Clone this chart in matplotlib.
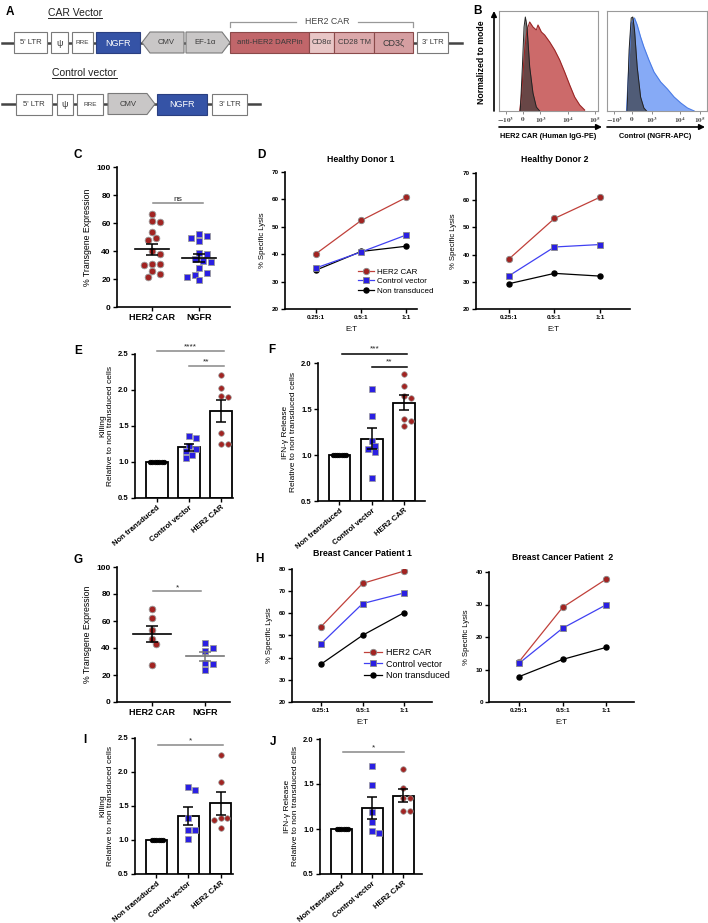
import numpy as np
import matplotlib
matplotlib.use("Agg")
import matplotlib.pyplot as plt
from matplotlib.patches import Polygon

W, H = 708, 923
plt.rcParams['font.family'] = ['Liberation Sans', 'DejaVu Sans']
plt.rcParams['font.weight'] = 'bold'
plt.rcParams['axes.linewidth'] = 1.2
plt.rcParams['mathtext.fontset'] = 'stix'

# ---------------------------------------------------------------- data
# A: vector maps (label, width in px, gap before, kind)
car_labels = ["5' LTR", "ψ", "RRE", "NGFR", "CMV", "EF-1α", "anti-HER2 DARPin",
              "CD8α", "CD28 TM", "CD3ζ", "3' LTR"]
car_widths = [33, 17, 21, 44, 42, 44, 79, 25, 40, 39, 31]
car_gaps = [14, 4, 4, 3, 2, 2, 0, 0, 0, 0, 4]
car_kinds = ['box', 'box', 'box', 'ngfr', 'left', 'right', 'car1', 'car2',
             'car3', 'car4', 'box']
ctrl_labels = ["5' LTR", "ψ", "RRE", "CMV", "NGFR", "3' LTR"]
ctrl_widths = [36, 16, 26, 47, 50, 35]
ctrl_gaps = [16, 5, 4, 5, 2, 5]
ctrl_kinds = ['box', 'box', 'box', 'right', 'ngfr', 'box']

# B: flow histograms (display position on biexp axis, normalized height)
b_car_x = [0.209, 0.226, 0.259, 0.283, 0.310, 0.343, 0.377, 0.394, 0.428,
           0.461, 0.512, 0.562, 0.613, 0.663, 0.714, 0.764, 0.815, 0.865]
b_car_y = [0.0, 0.14, 0.61, 0.81, 0.89, 0.84, 0.81, 0.86, 0.79, 0.76, 0.69,
           0.61, 0.51, 0.39, 0.26, 0.14, 0.06, 0.01]
b_iso1_x = [0.215, 0.236, 0.253, 0.266, 0.283, 0.310, 0.343, 0.377, 0.411]
b_iso1_y = [0.0, 0.44, 0.84, 0.94, 0.84, 0.44, 0.18, 0.04, 0.0]
b_ngfr_x = [0.195, 0.218, 0.242, 0.275, 0.302, 0.336, 0.369, 0.419, 0.470,
            0.537, 0.604, 0.671, 0.738, 0.805, 0.872]
b_ngfr_y = [0.0, 0.44, 0.88, 0.93, 0.86, 0.74, 0.64, 0.51, 0.39, 0.29, 0.22,
            0.14, 0.08, 0.03, 0.0]
b_iso2_x = [0.201, 0.221, 0.242, 0.258, 0.275, 0.302, 0.336, 0.369, 0.396]
b_iso2_y = [0.0, 0.61, 0.93, 0.94, 0.81, 0.44, 0.14, 0.03, 0.0]
b_tick_labels = [r'$-10^3$', r'$0$', r'$10^3$', r'$10^4$', r'$10^5$']

# C: transgene expression, healthy donors
c_her2 = [66.2, 60.7, 61.2, 53.6, 49.3, 47.9, 38.1, 39.8, 30.7, 29.8, 30.7,
          25.5, 23.3, 21.4]
c_ngfr = [51.9, 49.5, 47.1, 50.7, 38.6, 34.3, 32.9, 37.6, 32.4, 27.6, 22.9,
          21.7, 24.3, 19.0]

# D / H: specific lysis
et_ratios = ['0.25:1', '0.5:1', '1:1']
d1_her2 = [40.2, 52.3, 60.7]
d1_ctrl = [35.0, 40.8, 47.0]
d1_non = [34.2, 41.0, 42.9]
d2_her2 = [38.4, 53.3, 61.1]
d2_ctrl = [32.2, 42.8, 43.7]
d2_non = [29.3, 33.1, 32.1]
h1_her2 = [54.0, 73.5, 79.1]
h1_ctrl = [46.3, 64.4, 69.2]
h1_non = [37.1, 50.1, 60.3]
h2_her2 = [12.4, 29.1, 37.8]
h2_ctrl = [11.9, 22.7, 29.9]
h2_non = [7.8, 13.1, 16.8]

bar_groups = ['Non transduced', 'Control vector', 'HER2 CAR']
# E / F: healthy donors, relative to non transduced
e_non = [1.0] * 7
e_ctrl = [1.36, 1.34, 1.22, 1.18, 1.15, 1.10, 1.06]
e_her2 = [2.21, 2.03, 1.90, 1.92, 1.40, 1.25, 1.25]
f_non = [1.0] * 7
f_ctrl = [1.72, 1.42, 1.15, 1.065, 1.036, 1.10, 0.75]
f_her2 = [1.88, 1.75, 1.625, 1.64, 1.39, 1.375, 1.31]

# G: transgene expression, patients
g_her2 = [68.8, 62.1, 53.0, 47.0, 42.8, 27.5]
g_ngfr = [39.9, 38.1, 43.6, 29.2, 28.2, 23.5]

# I / J: patients, relative to non transduced
i_non = [1.0] * 6
i_ctrl = [1.78, 1.73, 1.33, 1.15, 1.15, 1.01]
i_her2 = [2.25, 1.85, 1.32, 1.30, 1.33, 1.18]
j_non = [1.0] * 6
j_ctrl = [1.705, 1.49, 1.19, 1.075, 0.955, 0.98]
j_her2 = [1.67, 1.46, 1.34, 1.34, 1.20, 1.20]

RED_M = '#A22422'
BLUE_M = '#2A1FE2'
RED_L = '#C0403A'
BLUE_L = '#4040F2'

fig = plt.figure(figsize=(W / 100, H / 100), dpi=100)


def px_axes(x0, y0, x1, y1):
    """Axes from pixel box (top-left origin)."""
    return fig.add_axes([x0 / W, 1 - y1 / H, (x1 - x0) / W, (y1 - y0) / H])


def prism(ax, size=5.5):
    ax.spines['top'].set_visible(False)
    ax.spines['right'].set_visible(False)
    ax.tick_params(direction='out', length=3, width=1, labelsize=size, pad=1.5)


def swarm(ax, vals, dist, step):
    """Horizontal offsets so markers do not overlap (pixel based)."""
    xl, yl = ax.get_xlim(), ax.get_ylim()
    ppx = ax.bbox.width / (xl[1] - xl[0])
    ppy = ax.bbox.height / (yl[1] - yl[0])
    vals = np.asarray(vals, dtype=float)
    offs = np.zeros(len(vals))
    placed = []
    for i in np.argsort(-vals, kind='stable'):
        y = vals[i] * ppy
        for k in [0, 1, -1, 2, -2, 3, -3, 4, -4, 5, -5, 6, -6]:
            x = k * step
            if all((x - a) ** 2 + (y - b) ** 2 >= dist ** 2 for a, b in placed):
                break
        placed.append((x, y))
        offs[i] = x / ppx
    return offs


def sig(ax, x0, x1, y, txt, color='#888888', dy=0.0):
    ax.plot([x0, x1], [y, y], color=color, lw=1.1, clip_on=False)
    ax.text((x0 + x1) / 2, y + dy, txt, ha='center', va='bottom',
            fontsize=6, fontweight='normal', color='#222222')


# ---------------------------------------------------------------- A
ax_a = px_axes(0, 0, 470, 125)
ax_a.set_xlim(0, 470)
ax_a.set_ylim(125, 0)
ax_a.axis('off')

fills = {'box': 'white', 'ngfr': '#3553A6', 'left': '#C9C7C7',
         'right': '#C9C7C7', 'car1': '#C1666A', 'car2': '#E8C6C6',
         'car3': '#DBA8AA', 'car4': '#D59EA1'}


def draw_row(ax, labels, widths, gaps, kinds, yc, x_end, h=21):
    ax.plot([2, x_end], [yc, yc], color='#444444', lw=1.8, zorder=1)
    x = 0
    for lab, w, g, k in zip(labels, widths, gaps, kinds):
        x += g
        x0, x1 = x, x + w
        y0, y1 = yc - h / 2, yc + h / 2
        tx = (x0 + x1) / 2
        if k == 'left':
            pts = [(x0 + 8, y0), (x1, y0), (x1, y1), (x0 + 8, y1), (x0, yc)]
            tx += 3
        elif k == 'right':
            pts = [(x0, y0), (x1 - 8, y0), (x1, yc), (x1 - 8, y1), (x0, y1)]
            tx -= 3
        else:
            pts = [(x0, y0), (x1, y0), (x1, y1), (x0, y1)]
        ec = '#7a7a7a' if k in ('box', 'left', 'right') else '#8a4a4a'
        if k == 'ngfr':
            ec = '#2a3f80'
        ax.add_patch(Polygon(pts, closed=True, fc=fills[k], ec=ec, lw=0.8,
                             zorder=2))
        fs = 4.6 if lab == 'RRE' else (6.5 if lab in ('ψ', 'CD3ζ', 'NGFR') else 5.6)
        col = 'white' if k == 'ngfr' else '#3a3a3a'
        ax.text(tx, yc + 0.5, lab, ha='center', va='center', fontsize=fs,
                fontweight='normal', color=col, zorder=3)
        x = x1


draw_row(ax_a, car_labels, car_widths, car_gaps, car_kinds, 42.5, 462)
draw_row(ax_a, ctrl_labels, ctrl_widths, ctrl_gaps, ctrl_kinds, 104, 260)

# HER2 CAR bracket
ax_a.plot([230, 230, 296], [27, 21.5, 21.5], color='#999999', lw=0.9)
ax_a.plot([358, 413, 413], [21.5, 21.5, 27], color='#999999', lw=0.9)
ax_a.text(327, 21.5, 'HER2 CAR', ha='center', va='center', fontsize=6.3,
          fontweight='normal', color='#444444')

renderer = fig.canvas.get_renderer()
for txt, x, y in [('CAR Vector', 48, 13), ('Control vector', 52, 73)]:
    t = ax_a.text(x, y, txt, ha='left', va='center', fontsize=7.5,
                  fontweight='normal', color='#222222')
    bb = t.get_window_extent(renderer).transformed(ax_a.transData.inverted())
    ax_a.plot([bb.x0, bb.x1], [y + 5, y + 5], color='#222222', lw=0.7)

# ---------------------------------------------------------------- B
b_ticks1 = [0.067, 0.242, 0.418, 0.70, 0.966]
b_ticks2 = [0.074, 0.245, 0.446, 0.728, 0.933]
panels_b = [
    (px_axes(499, 11, 598, 111), b_car_x, b_car_y, '#CC6A6A', '#9B2626',
     b_iso1_x, b_iso1_y, b_ticks1),
    (px_axes(607, 11, 707, 111), b_ngfr_x, b_ngfr_y, '#86AAF6', '#4A7BE6',
     b_iso2_x, b_iso2_y, b_ticks2),
]
for ax, xs, ys, fc, ec, ix, iy, ticks in panels_b:
    ax.fill_between(xs, ys, color=fc, lw=0)
    ax.plot(xs, ys, color=ec, lw=0.8)
    ax.fill_between(ix, iy, color='#333333', alpha=0.65, lw=0)
    ax.plot(ix, iy, color='#222222', lw=0.7)
    ax.set_xlim(0, 1)
    ax.set_ylim(0, 1.0)
    ax.set_yticks([])
    ax.set_xticks(ticks)
    ax.set_xticklabels(b_tick_labels, fontsize=5.2, fontweight='normal',
                       color='#444444')
    ax.tick_params(axis='x', length=2, width=0.6, pad=1, color='#777777')
    for s in ax.spines.values():
        s.set_color('#9a9a9a')
        s.set_linewidth(0.8)

# ---------------------------------------------------------------- C / G
def expression(ax, her2, ngfr, xlim, sig_y, sig_txt, sig_x, mean_col2):
    ax.set_xlim(*xlim)
    ax.set_ylim(0, 100)
    prism(ax, 6)
    ax.set_yticks(range(0, 101, 20))
    ax.set_xticks([0, 1])
    ax.set_xticklabels(['HER2 CAR', 'NGFR'], fontsize=6.5)
    ax.set_ylabel('% Transgene Expression', fontsize=6.3, labelpad=3)
    d = 6.6
    for i, vals, mk, col, mc in [(0, her2, 'o', RED_M, 'black'),
                                 (1, ngfr, 's', BLUE_M, mean_col2)]:
        off = swarm(ax, vals, d, d * 0.62)
        ax.plot(i + off, vals, ls='none', marker=mk, ms=4.8, mfc=col,
                mec='#9a9a9a', mew=0.6, zorder=3)
        v = np.asarray(vals)
        m = v.mean()
        se = v.std(ddof=1) / np.sqrt(len(v))
        ax.plot([i - 0.36, i + 0.36], [m, m], color=mc, lw=1.2, zorder=4)
        ax.errorbar(i, m, yerr=se, color=mc, lw=1.1, capsize=4, capthick=1.1,
                    zorder=4)
    sig(ax, sig_x[0], sig_x[1], sig_y, sig_txt)


ax_c = px_axes(117, 167, 230, 307)
expression(ax_c, c_her2, c_ngfr, (-0.745, 1.66), 74.5, 'ns', (0.02, 1.08),
           'black')
ax_g = px_axes(117, 567, 230, 702)
expression(ax_g, g_her2, g_ngfr, (-0.66, 1.47), 81.9, '*', (0.02, 0.93),
           '#777777')

# ---------------------------------------------------------------- D / H
def lysis(ax, her2, ctrl, non, xlim, ylim, yticks, legend=None):
    x = np.arange(3)
    ax.plot(x, her2, color=RED_L, lw=0.9, marker='o', ms=4.6, mfc=RED_M,
            mec='#8a8a8a', mew=0.6, label='HER2 CAR', zorder=3)
    ax.plot(x, non, color='black', lw=0.9, marker='o', ms=3.6, mfc='black',
            mec='black', label='Non transduced', zorder=3)
    ax.plot(x, ctrl, color=BLUE_L, lw=0.9, marker='s', ms=4.6, mfc=BLUE_M,
            mec='#8a8a8a', mew=0.6, label='Control vector', zorder=3)
    ax.set_xlim(*xlim)
    ax.set_ylim(*ylim)
    ax.set_yticks(yticks)
    ax.set_xticks(x)
    ax.set_xticklabels(et_ratios)
    prism(ax, 4.6)
    ax.set_ylabel('% Specific Lysis', fontsize=5.6, labelpad=4)
    ax.set_xlabel('E:T', fontsize=5.6, labelpad=4)
    if legend is not None:
        h, lab = ax.get_legend_handles_labels()
        order = [0, 2, 1]
        ax.legend([h[k] for k in order], [lab[k] for k in order],
                  frameon=False, loc='lower right',
                  bbox_to_anchor=(legend[0], legend[1]),
                  prop={'size': legend[2], 'weight': 'normal'},
                  handlelength=2.0, handletextpad=0.4, labelspacing=0.25,
                  borderaxespad=0)


ax_d1 = px_axes(285, 172, 417, 309)
lysis(ax_d1, d1_her2, d1_ctrl, d1_non, (-0.69, 2.24), (20, 70),
      range(20, 71, 10), legend=(1.15, 0.08, 5.8))
ax_d2 = px_axes(476, 173, 630, 309)
lysis(ax_d2, d2_her2, d2_ctrl, d2_non, (-0.725, 2.66), (20, 70),
      range(20, 71, 10))
ax_h1 = px_axes(292, 569, 432, 702)
lysis(ax_h1, h1_her2, h1_ctrl, h1_non, (-0.70, 2.67), (20, 80),
      range(20, 81, 10), legend=(1.15, 0.14, 6.5))
ax_h2 = px_axes(489, 572, 634, 702)
lysis(ax_h2, h2_her2, h2_ctrl, h2_non, (-0.69, 2.64), (0, 40),
      range(0, 41, 10))

# ---------------------------------------------------------------- E / F / I / J
def relative(ax, groups, xlim, ylim, yticks, ylabel):
    ax.set_xlim(*xlim)
    ax.set_ylim(*ylim)
    prism(ax, 5.5)
    ax.set_yticks(yticks)
    ax.set_xticks(range(3))
    ax.set_xticklabels(bar_groups, rotation=40, ha='right',
                       rotation_mode='anchor', fontsize=5.6)
    ax.set_ylabel(ylabel, fontsize=6, labelpad=3, linespacing=1.2)
    styles = [('o', 'black', 'black', 3.3, 2.3, 2.3),
              ('s', BLUE_M, '#9a9a9a', 4.0, 5.4, 3.4),
              ('o', RED_M, '#9a9a9a', 4.0, 5.4, 3.4)]
    for i, (vals, st) in enumerate(zip(groups, styles)):
        mk, fc, ec, ms, dist, step = st
        v = np.asarray(vals, dtype=float)
        m = v.mean()
        se = v.std(ddof=1) / np.sqrt(len(v))
        ax.bar(i, m - ylim[0], bottom=ylim[0], width=0.68, color='white',
               edgecolor='black', lw=1.3, zorder=1)
        off = swarm(ax, v, dist, step)
        ax.plot(i + off, v, ls='none', marker=mk, ms=ms, mfc=fc, mec=ec,
                mew=0.5, zorder=3)
        if se > 0:
            ax.errorbar(i, m, yerr=se, color='black', lw=1.1, capsize=3.5,
                        capthick=1.1, zorder=4)


kill_label = 'Killing\nRelative to non transduced cells'
ifn_label = 'IFN-γ Release\nRelative to non transduced cells'

ax_e = px_axes(135, 354, 233, 498)
relative(ax_e, [e_non, e_ctrl, e_her2], (-0.69, 2.375), (0.5, 2.5),
         [0.5, 1.0, 1.5, 2.0, 2.5], kill_label)
sig(ax_e, 0.0, 2.1, 2.54, '****', dy=0.01)
sig(ax_e, 1.0, 2.1, 2.33, '**', dy=0.01)

ax_f = px_axes(318, 363, 425, 501)
relative(ax_f, [f_non, f_ctrl, f_her2], (-0.666, 2.65), (0.5, 2.0),
         [0.5, 1.0, 1.5, 2.0], ifn_label)
sig(ax_f, 0.08, 2.09, 2.10, '***', color='black', dy=0.01)
sig(ax_f, 1.0, 2.09, 1.96, '**', color='black', dy=0.01)

ax_i = px_axes(135, 738, 233, 874)
relative(ax_i, [i_non, i_ctrl, i_her2], (-0.67, 2.39), (0.5, 2.5),
         [0.5, 1.0, 1.5, 2.0, 2.5], kill_label)
sig(ax_i, 0.05, 2.08, 2.39, '*', dy=0.01)

ax_j = px_axes(320, 739, 422, 874)
relative(ax_j, [j_non, j_ctrl, j_her2], (-0.69, 2.6), (0.5, 2.0),
         [0.5, 1.0, 1.5, 2.0], ifn_label)
sig(ax_j, 0.05, 2.02, 1.855, '*', dy=0.01)

# ---------------------------------------------------------------- overlay
ov = fig.add_axes([0, 0, 1, 1])
ov.set_xlim(0, W)
ov.set_ylim(H, 0)
ov.axis('off')
ov.patch.set_alpha(0)

for lab, x, y in [('A', 6, 12), ('B', 473, 11), ('C', 73, 155),
                  ('D', 257, 155), ('E', 74, 351), ('F', 268, 350),
                  ('G', 74, 560), ('H', 255, 559), ('I', 83, 740),
                  ('J', 270, 742)]:
    ov.text(x, y, lab, fontsize=8.5, fontweight='bold', ha='left',
            va='center')

for txt, x, y in [('Healthy Donor 1', 361, 159), ('Healthy Donor 2', 555, 160),
                  ('Breast Cancer Patient 1', 362, 554),
                  ('Breast Cancer Patient  2', 563, 557)]:
    ov.text(x, y, txt, fontsize=6.3, fontweight='bold', ha='center',
            va='center')

arrow = dict(arrowstyle='-|>', color='black', lw=1.2, mutation_scale=8,
             shrinkA=0, shrinkB=0)
ov.annotate('', xy=(494, 11), xytext=(494, 111), arrowprops=arrow)
ov.annotate('', xy=(602, 127), xytext=(499, 127), arrowprops=arrow)
ov.annotate('', xy=(705, 127), xytext=(607, 127), arrowprops=arrow)
ov.text(482, 62, 'Normalized to mode', rotation=90, ha='center', va='center',
        fontsize=6.2, fontweight='bold')
ov.text(548, 137, 'HER2 CAR (Human IgG-PE)', ha='center', va='center',
        fontsize=5.3, fontweight='bold')
ov.text(655, 137, 'Control (NGFR-APC)', ha='center', va='center',
        fontsize=5.3, fontweight='bold')

fig.savefig('out.png', dpi=100)
